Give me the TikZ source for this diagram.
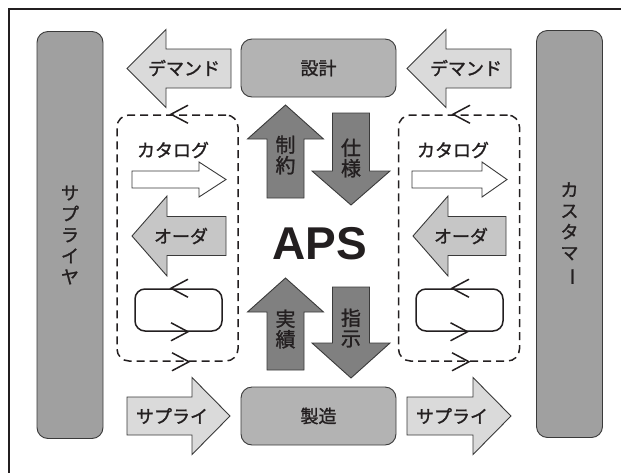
\documentclass[tikz,border=0pt]{standalone}
\usepackage{fontspec}
\setmainfont{Noto Sans CJK JP}[FakeBold=1.3]
\newfontfamily\apsfont{Liberation Sans}
\definecolor{inkgray}{HTML}{231F20}
\definecolor{edgegray}{HTML}{3A3A3A}
\definecolor{sidegray}{HTML}{A0A0A0}
\definecolor{procgray}{HTML}{B3B3B3}
\definecolor{flowgray}{HTML}{DADADA}
\definecolor{ordergray}{HTML}{C6C6C6}
\definecolor{apsgray}{HTML}{808080}
\tikzset{
  pics/fatarrow/.style args={#1/#2/#3/#4}{code={
    \draw[pic actions] (0,-#2) -- (#1-#4,-#2) -- (#1-#4,-#3) -- (#1,0)
      -- (#1-#4,#3) -- (#1-#4,#2) -- (0,#2) -- cycle;
  }},
  pics/vtip/.style={code={
    \draw[pic actions] (17,-9) -- (0,0) -- (17,9);
  }},
}

\begin{document}
\begin{tikzpicture}[x=1pt,y=-1pt,
    frameline/.style={draw=inkgray,line width=1.8pt},
    sidebox/.style={draw=edgegray,line width=0.9pt,fill=sidegray,rounded corners=11pt,
      minimum width=66pt,minimum height=407pt,align=center,text=inkgray,
      font=\fontsize{18}{21}\selectfont},
    procbox/.style={draw=edgegray,line width=0.9pt,fill=procgray,rounded corners=11pt,
      minimum width=155pt,minimum height=58pt,text=inkgray,font=\fontsize{18}{21}\selectfont},
    bigarrow/.style={draw=edgegray,line width=0.9pt},
    cycleframe/.style={draw=inkgray,line width=1.5pt,dash pattern=on 8pt off 5pt,
      rounded corners=12pt,minimum width=121pt,minimum height=246pt},
    loopbox/.style={draw=inkgray,line width=1.5pt,rounded corners=10pt,
      minimum width=87pt,minimum height=42pt},
    barb/.style={draw=inkgray,line width=1.5pt},
    lbl/.style={inner sep=0pt,text=inkgray,font=\fontsize{18}{21}\selectfont},
    klbl/.style={lbl,align=center,font=\fontsize{20}{20.5}\selectfont},
  ]
  \useasboundingbox (0,0) rectangle (621,472);
  \draw[frameline] (9,480) -- (9,9) -- (630,9);

  \node[sidebox] (supplier) at (70,235) {サ\\プ\\ラ\\イ\\ヤ};
  \node[sidebox] (customer) at (569.5,234) {カ\\ス\\タ\\マ\\\rotatebox[origin=c]{-90}{ー}};
  \node[procbox] (design) at (318.5,68) {設計};
  \node[procbox] (production) at (318.5,416) {製造};

  \pic[bigarrow,fill=flowgray,rotate=180] at (231,68.5) {fatarrow=104/19.5/39/39};
  \node[lbl] (demandL) at (184,68) {デマンド};
  \pic[bigarrow,fill=flowgray,rotate=180] at (511,68.5) {fatarrow=104/19.5/39/39};
  \node[lbl] (demandR) at (466,68) {デマンド};

  \node[cycleframe] (cycleL) at (177.5,238) {};
  \node[cycleframe] (cycleR) at (459,238) {};
  \pic[barb] at ([xshift=-6.5pt]cycleL.north) {vtip};
  \pic[barb,rotate=180] at ([xshift=11.5pt]cycleL.south) {vtip};
  \pic[barb] at ([xshift=-6pt]cycleR.north) {vtip};
  \pic[barb,rotate=180] at ([xshift=10pt]cycleR.south) {vtip};

  \pic[bigarrow,fill=white] at (132,179.5) {fatarrow=94/8.5/17.5/27};
  \node[lbl] (catalogL) at (173,150) {カタログ};
  \pic[bigarrow,fill=white] at (412,179.5) {fatarrow=95/8.5/17.5/25};
  \node[lbl] (catalogR) at (453,150) {カタログ};

  \pic[bigarrow,fill=ordergray,rotate=180] at (226,236) {fatarrow=94/19.5/40/35};
  \node[lbl] (orderL) at (181,236) {オーダ};
  \pic[bigarrow,fill=ordergray,rotate=180] at (506,236) {fatarrow=93/19.5/40/35};
  \node[lbl] (orderR) at (461,236) {オーダ};

  \node[loopbox] (loopL) at (178.5,310) {};
  \node[loopbox] (loopR) at (459.5,310) {};
  \pic[barb] at ([xshift=-7.5pt]loopL.north) {vtip};
  \pic[barb,rotate=180] at ([xshift=9.5pt]loopL.south) {vtip};
  \pic[barb] at ([xshift=-7.5pt]loopR.north) {vtip};
  \pic[barb,rotate=180] at ([xshift=8pt]loopR.south) {vtip};

  \pic[bigarrow,fill=flowgray] at (127,416) {fatarrow=103/19/38.5/38};
  \node[lbl] (supplyL) at (172,416) {サプライ};
  \pic[bigarrow,fill=flowgray] at (407,416) {fatarrow=104/19/38.5/38};
  \node[lbl] (supplyR) at (452,416) {サプライ};

  \pic[bigarrow,fill=apsgray,rotate=90] at (285.5,198) {fatarrow=93/18.5/38/34};
  \node[klbl] (constraint) at (285.5,155) {制\\約};
  \pic[bigarrow,fill=apsgray,rotate=-90] at (351,113) {fatarrow=92/18.5/39/34};
  \node[klbl] (spec) at (351,158) {仕\\様};
  \pic[bigarrow,fill=apsgray,rotate=90] at (285.5,370) {fatarrow=92/18.5/38/34};
  \node[klbl] (result) at (285.5,329) {実\\績};
  \pic[bigarrow,fill=apsgray,rotate=-90] at (351,287) {fatarrow=91/18.5/39/35};
  \node[klbl] (instruction) at (351,328) {指\\示};

  \node[inner sep=0pt,text=inkgray,font=\apsfont\bfseries\fontsize{46}{46}\selectfont] (aps) at (319.5,244) {APS};
\end{tikzpicture}
\end{document}
